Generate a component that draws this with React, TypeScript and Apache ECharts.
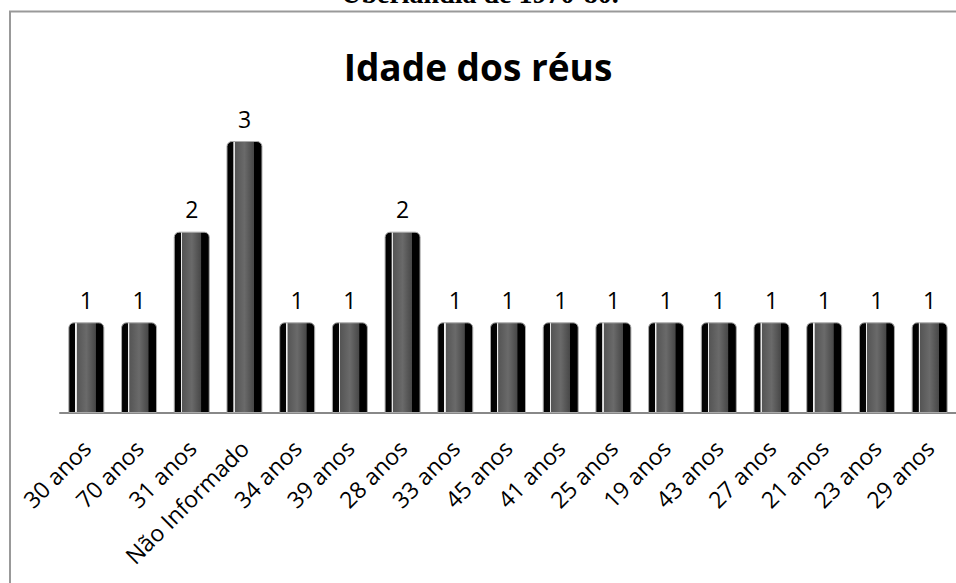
import React, { useEffect, useRef } from "react";
import * as echarts from "echarts";

const categories = [
  "30 anos", "70 anos", "31 anos", "Não Informado", "34 anos", "39 anos",
  "28 anos", "33 anos", "45 anos", "41 anos", "25 anos", "19 anos",
  "43 anos", "27 anos", "21 anos", "23 anos", "29 anos",
];
const values = [1, 1, 2, 3, 1, 1, 2, 1, 1, 1, 1, 1, 1, 1, 1, 1, 1];
const chartTitle = "Idade dos réus";
const captionText = "Uberlândia de 1970-80.";

export default function App() {
  const ref = useRef<HTMLDivElement>(null);
  useEffect(() => {
    document.body.style.margin = "0";
    const chart = echarts.init(ref.current!, undefined, { renderer: "svg" });
    const barGradient = new echarts.graphic.LinearGradient(0, 0, 1, 0, [
      { offset: 0, color: "#000000" },
      { offset: 0.18, color: "#050505" },
      { offset: 0.19, color: "#f4f4f4" },
      { offset: 0.22, color: "#e0e0e0" },
      { offset: 0.23, color: "#555555" },
      { offset: 0.5, color: "#6a6a6a" },
      { offset: 0.76, color: "#484848" },
      { offset: 0.78, color: "#000000" },
      { offset: 1, color: "#000000" },
    ]);
    chart.setOption({
      animation: false,
      backgroundColor: "#ffffff",
      graphic: [
        {
          type: "rect",
          shape: { x: 10, y: 11.5, width: 1000, height: 650 },
          style: { fill: "none", stroke: "#999999", lineWidth: 2 },
          silent: true,
          z: -10,
        },
        {
          type: "text",
          x: 480,
          y: 7,
          style: {
            text: captionText,
            font: "bold 28px 'Liberation Serif', 'Times New Roman', serif",
            fill: "#000",
            align: "center",
            verticalAlign: "bottom",
          },
        },
        {
          type: "text",
          x: 478,
          y: 66,
          style: {
            text: chartTitle,
            font: "bold 37px 'Open Sans', sans-serif",
            fill: "#000",
            align: "center",
            verticalAlign: "middle",
          },
        },
      ],
      grid: { left: 60, right: -1, top: 141, bottom: 170, containLabel: false },
      xAxis: {
        type: "category",
        data: categories,
        axisLine: { show: true, lineStyle: { color: "#888888", width: 2 } },
        axisTick: { show: false },
        axisLabel: {
          rotate: 45,
          interval: 0,
          margin: 31,
          fontFamily: "'Open Sans', sans-serif",
          fontSize: 23,
          color: "#000",
        },
      },
      yAxis: {
        type: "value",
        min: 0,
        max: 3,
        show: false,
        splitLine: { show: false },
      },
      series: [
        {
          type: "bar",
          data: values,
          barWidth: 36,
          itemStyle: {
            color: barGradient,
            borderColor: "#aaaaaa",
            borderWidth: 1,
            borderRadius: [5, 5, 0, 0],
          },
          label: {
            show: true,
            position: "top",
            distance: 11,
            fontFamily: "'Open Sans', sans-serif",
            fontSize: 23,
            color: "#000",
          },
        },
      ],
    });
    return () => chart.dispose();
  }, []);
  return <div ref={ref} style={{ width: 956, height: 583 }} />;
}
